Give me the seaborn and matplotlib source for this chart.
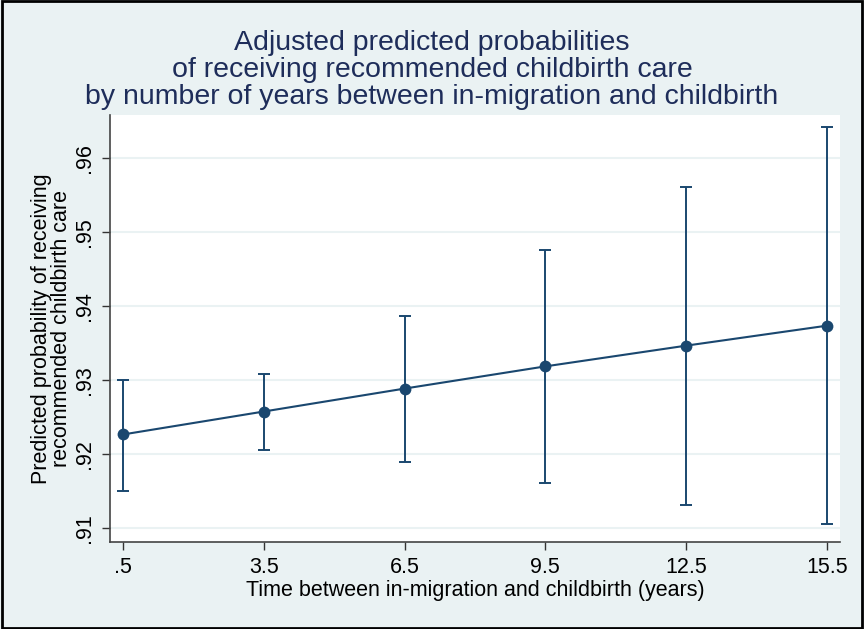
import numpy as np
import pandas as pd
import matplotlib
matplotlib.use('Agg')
import matplotlib.pyplot as plt
from matplotlib.patches import Rectangle
import seaborn as sns

# ---------- dados ----------
anos = [0.5, 3.5, 6.5, 9.5, 12.5, 15.5]
prob = [0.9226, 0.9257, 0.9288, 0.9318, 0.9346, 0.9373]
ic_inf = [0.9150, 0.9205, 0.9189, 0.9160, 0.9131, 0.9105]
ic_sup = [0.9300, 0.9308, 0.9386, 0.9475, 0.9560, 0.9642]
xticks = [0.5, 3.5, 6.5, 9.5, 12.5, 15.5]
xlabels = ['.5', '3.5', '6.5', '9.5', '12.5', '15.5']
yticks = [0.91, 0.92, 0.93, 0.94, 0.95, 0.96]
ylabels = ['.91', '.92', '.93', '.94', '.95', '.96']

df = pd.DataFrame({'anos': anos, 'prob': prob, 'inf': ic_inf, 'sup': ic_sup})

cor = '#1A476F'
fundo = '#EAF2F3'

sns.set_theme(style='white')
plt.rcParams['font.family'] = ['Liberation Sans', 'DejaVu Sans']

fig = plt.figure(figsize=(8.64, 6.29), dpi=100, facecolor=fundo)
ax = fig.add_axes([0.1273, 0.1383, 0.8449, 0.6789])
ax.set_facecolor('white')

# intervalos de confiança
ax.errorbar(df['anos'], df['prob'],
            yerr=[df['prob'] - df['inf'], df['sup'] - df['prob']],
            fmt='none', ecolor=cor, elinewidth=1.4, capsize=4.5, capthick=1.4, zorder=3)
sns.lineplot(data=df, x='anos', y='prob', ax=ax, color=cor, linewidth=1.5,
             marker='o', markersize=8.5, markeredgewidth=0, zorder=4)

ax.set_xlim(0.223, 15.78)
ax.set_ylim(0.90807, 0.96577)
ax.set_xticks(xticks)
ax.set_xticklabels(xlabels, fontsize=15.5)
ax.set_yticks(yticks)
ax.set_yticklabels(ylabels, fontsize=15.5, rotation=90, va='center')
ax.yaxis.grid(True, color=fundo, linewidth=1.5)
ax.set_axisbelow(True)
ax.tick_params(axis='both', direction='out', length=6, width=1, color='#333333',
               left=True, bottom=True, pad=5, labelcolor='black')

for lado in ['top', 'right']:
    ax.spines[lado].set_visible(False)
for lado in ['left', 'bottom']:
    ax.spines[lado].set_color('#444444')
    ax.spines[lado].set_linewidth(1.2)

ax.set_xlabel('Time between in-migration and childbirth (years)', fontsize=15.5,
              color='black', labelpad=1)
ax.set_ylabel('Predicted probability of receiving\nrecommended childbirth care',
              fontsize=15.5, color='black', labelpad=1, linespacing=0.95)

fig.text(0.5, 0.953, 'Adjusted predicted probabilities\n'
         'of receiving recommended childbirth care\n'
         'by number of years between in-migration and childbirth',
         ha='center', va='top', fontsize=20.5, color='#1E2D5A', linespacing=1.05)

# moldura externa
fig.patches.append(Rectangle((0.002, 0.002), 0.996, 0.996, transform=fig.transFigure,
                             fill=False, edgecolor='black', linewidth=2))

fig.savefig('out.png', dpi=100, facecolor=fundo)
